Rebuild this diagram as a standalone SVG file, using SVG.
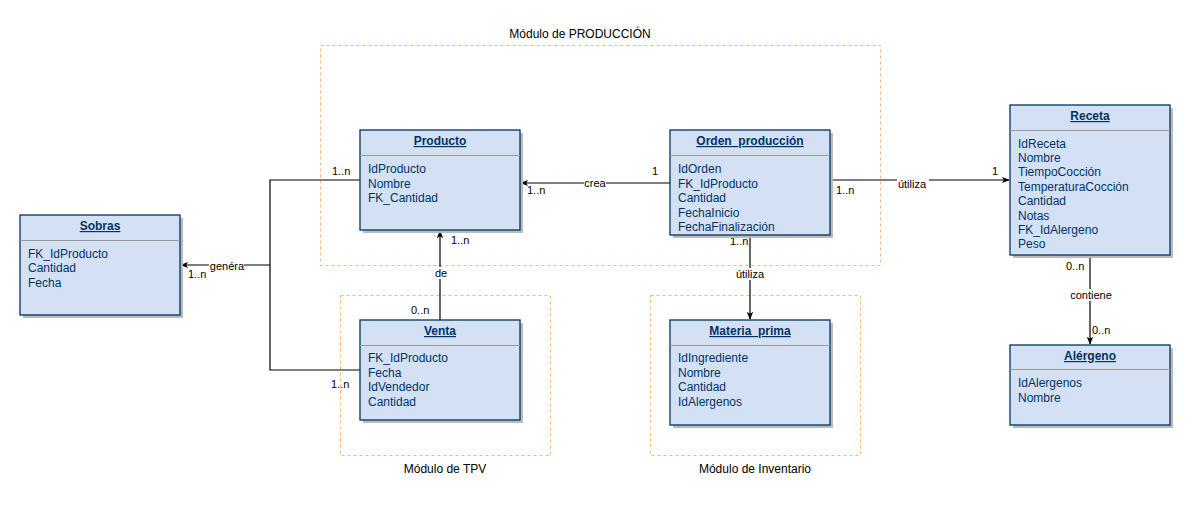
<svg xmlns="http://www.w3.org/2000/svg" width="1194" height="506" viewBox="0 0 1194 506">
<style>
text{font-family:"Liberation Sans",Arial,sans-serif;}
.mod{fill:none;stroke:#FFB570;stroke-width:1;stroke-dasharray:3,3;}
.modl{font-size:12px;fill:#000;text-anchor:middle;}
.sh{fill:#BBBBBB;}
.box{fill:#D4E1F5;stroke:#003366;stroke-width:1.3;}
.sep{stroke:#999999;stroke-width:1;}
.t{font-size:12px;font-weight:bold;fill:#003366;text-anchor:middle;text-decoration:underline;}
.a{font-size:12px;fill:#003366;}
.c{fill:none;stroke:#000;stroke-width:1.2;}
.l{font-size:11px;fill:#000;}
.lm{font-size:11px;fill:#000;text-anchor:middle;}
.bg{fill:#fff;}
</style>
<defs>
<marker id="arr" viewBox="0 0 10 10" refX="9" refY="5" markerWidth="8" markerHeight="8" orient="auto" markerUnits="userSpaceOnUse">
<path d="M0,1 L10,5 L0,9 L2.5,5 Z" fill="#000"/>
</marker>
</defs>
<rect width="1194" height="506" fill="#fff"/>
<g id="modules">
<rect class="mod" x="320.5" y="45.5" width="560" height="220"/>
<text class="modl" x="580" y="38">Módulo de PRODUCCIÓN</text>
<rect class="mod" x="340.5" y="295.5" width="210" height="160"/>
<text class="modl" x="445" y="473">Módulo de TPV</text>
<rect class="mod" x="650.5" y="295.5" width="210" height="160"/>
<text class="modl" x="755" y="473">Módulo de Inventario</text>
</g>
<g id="connectors">
<polyline class="c" points="360,180 270,180 270,370 360,370"/>
<line class="c" x1="270" y1="265" x2="181" y2="265" marker-end="url(#arr)"/>
<line class="c" x1="670" y1="183" x2="521" y2="183" marker-end="url(#arr)"/>
<line class="c" x1="830" y1="180" x2="1009" y2="180" marker-end="url(#arr)"/>
<line class="c" x1="750" y1="235" x2="750" y2="319" marker-end="url(#arr)"/>
<line class="c" x1="440" y1="320" x2="440" y2="231" marker-end="url(#arr)"/>
<line class="c" x1="1090" y1="255" x2="1090" y2="344" marker-end="url(#arr)"/>
<rect class="bg" x="209" y="259" width="35" height="12"/>
<text class="lm" x="227" y="270">genéra</text>
<text class="l" x="188" y="278">1..n</text>
<text class="l" x="332" y="175">1..n</text>
<text class="l" x="331" y="388">1..n</text>
<rect class="bg" x="584" y="177" width="22" height="12"/>
<text class="lm" x="595" y="187">crea</text>
<text class="l" x="652" y="175">1</text>
<text class="l" x="527" y="194">1..n</text>
<rect class="bg" x="897" y="174" width="32" height="12"/>
<text class="lm" x="912" y="188">útiliza</text>
<text class="l" x="836" y="194">1..n</text>
<text class="l" x="992" y="175">1</text>
<text class="l" x="730" y="245">1..n</text>
<rect class="bg" x="735" y="268" width="31" height="12"/>
<text class="lm" x="750" y="278">útiliza</text>
<rect class="bg" x="434" y="267" width="14" height="12"/>
<text class="lm" x="441" y="277">de</text>
<text class="l" x="451" y="244">1..n</text>
<text class="l" x="411" y="314">0..n</text>
<text class="l" x="1066" y="270">0..n</text>
<rect class="bg" x="1071" y="289" width="41" height="12"/>
<text class="lm" x="1091" y="299">contiene</text>
<text class="l" x="1092" y="334">0..n</text>
</g>
<g id="producto">
<rect class="sh" x="363" y="133" width="160" height="100"/>
<rect class="box" x="360" y="130" width="160" height="100"/>
<line class="sep" x1="360" y1="155.5" x2="520" y2="155.5"/>
<text class="t" x="440" y="145">Producto</text>
<text class="a" x="368" y="173">IdProducto</text>
<text class="a" x="368" y="188">Nombre</text>
<text class="a" x="368" y="202">FK_Cantidad</text>
</g>
<g id="orden">
<rect class="sh" x="673" y="133" width="160" height="105"/>
<rect class="box" x="670" y="130" width="160" height="105"/>
<line class="sep" x1="670" y1="155.5" x2="830" y2="155.5"/>
<text class="t" x="750" y="145">Orden_producción</text>
<text class="a" x="678" y="173">IdOrden</text>
<text class="a" x="678" y="188">FK_IdProducto</text>
<text class="a" x="678" y="202">Cantidad</text>
<text class="a" x="678" y="217">FechaInicio</text>
<text class="a" x="678" y="231">FechaFinalización</text>
</g>
<g id="receta">
<rect class="sh" x="1013" y="108" width="160" height="150"/>
<rect class="box" x="1010" y="105" width="160" height="150"/>
<line class="sep" x1="1010" y1="130.5" x2="1170" y2="130.5"/>
<text class="t" x="1090" y="120">Receta</text>
<text class="a" x="1018" y="148">IdReceta</text>
<text class="a" x="1018" y="162">Nombre</text>
<text class="a" x="1018" y="176">TiempoCocción</text>
<text class="a" x="1018" y="191">TemperaturaCocción</text>
<text class="a" x="1018" y="205">Cantidad</text>
<text class="a" x="1018" y="220">Notas</text>
<text class="a" x="1018" y="234">FK_IdAlergeno</text>
<text class="a" x="1018" y="248">Peso</text>
</g>
<g id="alergeno">
<rect class="sh" x="1013" y="348" width="160" height="80"/>
<rect class="box" x="1010" y="345" width="160" height="80"/>
<line class="sep" x1="1010" y1="369.5" x2="1170" y2="369.5"/>
<text class="t" x="1090" y="360">Alérgeno</text>
<text class="a" x="1018" y="387">IdAlergenos</text>
<text class="a" x="1018" y="402">Nombre</text>
</g>
<g id="sobras">
<rect class="sh" x="23" y="218" width="160" height="100"/>
<rect class="box" x="20" y="215" width="160" height="100"/>
<line class="sep" x1="20" y1="240.5" x2="180" y2="240.5"/>
<text class="t" x="100" y="230">Sobras</text>
<text class="a" x="28" y="258">FK_IdProducto</text>
<text class="a" x="28" y="272">Cantidad</text>
<text class="a" x="28" y="287">Fecha</text>
</g>
<g id="venta">
<rect class="sh" x="363" y="323" width="160" height="100"/>
<rect class="box" x="360" y="320" width="160" height="100"/>
<line class="sep" x1="360" y1="345.5" x2="520" y2="345.5"/>
<text class="t" x="440" y="335">Venta</text>
<text class="a" x="368" y="362">FK_IdProducto</text>
<text class="a" x="368" y="377">Fecha</text>
<text class="a" x="368" y="391">IdVendedor</text>
<text class="a" x="368" y="406">Cantidad</text>
</g>
<g id="materia">
<rect class="sh" x="673" y="323" width="160" height="105"/>
<rect class="box" x="670" y="320" width="160" height="105"/>
<line class="sep" x1="670" y1="345.5" x2="830" y2="345.5"/>
<text class="t" x="750" y="335">Materia_prima</text>
<text class="a" x="678" y="362">IdIngrediente</text>
<text class="a" x="678" y="377">Nombre</text>
<text class="a" x="678" y="391">Cantidad</text>
<text class="a" x="678" y="406">IdAlergenos</text>
</g>
</svg>
